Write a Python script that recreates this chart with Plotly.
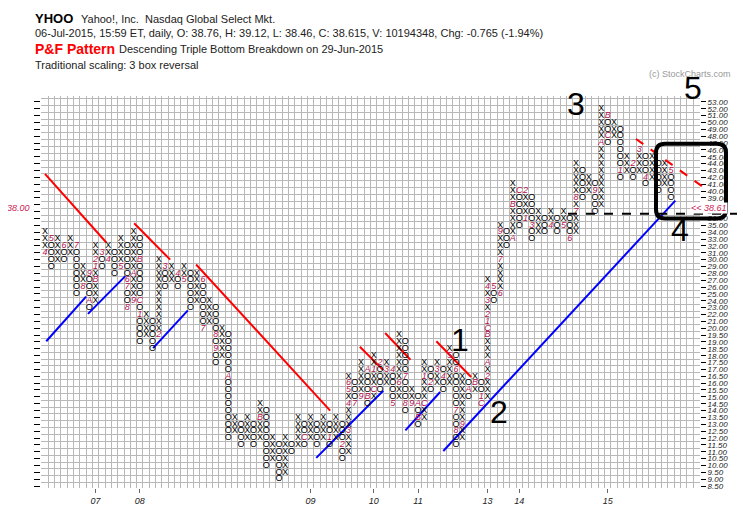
import plotly.graph_objects as go

# ---------------- data ----------------
col_type = list("XOXOXOXOXO" * 10)
col_low = [31,29,30,30,31,25,26,23,24,29, 30,28,29,23,24,19,19.5,18.5,19.5,26,
           27,26,27,23,24,20,21,17.5,18,12, 12.5,11.5,12,11.5,12,10,10.5,9,9.5,11,
           11.5,11.5,12,11.5,12,11.5,12,10.5,11,14.5, 15,14.5,15,15.5,16,14.5,15,14,14.5,13,
           13.5,15.5,16,15.5,16,11.5,12,15,15.5,14.5, 15,24,25,32,33,35,36,33,34,34,
           35,34,35,33,34,39,40,37,38,47, 48,42,43,42,43,41,42,40,41,39]
col_high = [34,33,33,32,33,32,29,28,32,31, 32,31,33,32,34,33,22,21,30,29,
            29,28,29,28,28,27,24,23,20,19.5, 13.5,13,13.5,13,14.5,14,12,11.5,12,11.5,
            13.5,13,13.5,13,13.5,13,13.5,13,16.5,16, 17.5,17,18,17.5,17.5,17,19.5,19,15.5,15,
            17.5,17,17.5,17,18.5,18,16.5,16,16.5,16, 27,26,35,34,41,40,40,39,37,36,
            37,36,37,36,44,43,42,41,52,51, 50,49,45,44,46,45,45,44,44,43]

mk_col = [0,1,3,5,6,7,7,8,8,8,9,10,12,13,13,13,14,14,15,15,15,18,19,21,22,25,25,27,27,29,
          34,41,45,47,48,48,48,48,49,50,51,51,52,52,53,54,55,55,56,57,57,58,59,59,60,60,61,62,63,64,
          65,65,65,66,67,68,69,69,70,70,70,70,70,70,70,70,71,72,72,72,74,74,75,76,76,77,80,82,83,84,84,
          87,88,89,89,91,93,94,95,99]
mk_price = [31,33,32,32,26,28,24,27,29,30,31,30,29,27,26,23,24,28,30,24,22,19.5,29,28,27,27,20,19.5,18.5,16.5,
            13.5,12,12,11.5,12.5,14.5,15.5,16,14.5,15,17,15,15.5,17,17.5,17,17,14.5,16,16.5,14.5,14.5,14.5,13.5,14.5,16.5,16,17,16.5,18,
            17,14,12.5,13,15.5,16,14.5,15,16.5,17.5,19.5,20,21,22,24,26,26,25,30,34,33,38,40,36,40,35,35,35,33,37,39,
            40,47,51,48,43,44,46,42,43]
mk_char = list("456789AB1234567" + "89ABC1234567" + "89A") + \
          list("BC1234567" + "9ABC1234" + "56789ABC" + "123" + "4") + \
          list("56789ABC" + "12") + list("ABC12345") + list("679ABC") + list("1234567") + list("89") + \
          list("ABC1") + list("2345") + list("6")

box_labels = [f"{8.5 + 0.5*i:.2f}" for i in range(23)] + [f"{20 + i:.2f}" for i in range(34)]
year_cols = [8, 15, 42, 52, 59, 70, 75, 89]
year_labels = ["07", "08", "09", "10", "11", "13", "14", "15"]

red_x = [[0, 9.7], [14.1, 19.8], [23.9, 45.1], [49.8, 53.5], [53.8, 57.8], [61.9, 67.4]]
red_y = [[45.5, 35.5], [38.3, 33], [32.3, 11.0], [20.3, 16.9], [22.3, 18.4], [21.1, 15.9]]
blue_x = [[0.2, 6.5], [6.8, 12.7], [17.1, 22.6], [42.9, 53.5], [57, 62.5], [63, 99.7]]
blue_y = [[21.1, 27.6], [25.1, 30.6], [20.1, 25.6], [4.1, 13.9], [8.1, 13.7], [5.1, 41.6]]
dash_red_px = [628, 697]
dash_red_y = [50.6, 43.4]


def idx(p):
    return (p - 8.5) / 0.5 if p < 20 else 23 + (p - 20)


marks = {(c, round(idx(p))): ch for c, p, ch in zip(mk_col, mk_price, mk_char)}
xs, ys, ts = [], [], []
mx, my, mt = [], [], []
for c, (t, lo, hi) in enumerate(zip(col_type, col_low, col_high)):
    for i in range(round(idx(lo)), round(idx(hi)) + 1):
        if (c, i) in marks:
            mx.append(c); my.append(i); mt.append(marks[(c, i)])
        else:
            xs.append(c); ys.append(i); ts.append(t)

W, H, L, R, T, B = 745, 510, 33, 53, 88, 22
PW, PH = W - L - R, H - T - B


def px(x):
    return (x - L) / PW


def py(y):
    return (H - B - y) / PH


fig = go.Figure()
for lx, ly in zip(red_x, red_y):
    fig.add_trace(go.Scatter(x=lx, y=ly, mode="lines", line=dict(color="#ff0000", width=2), hoverinfo="skip"))
for lx, ly in zip(blue_x, blue_y):
    fig.add_trace(go.Scatter(x=lx, y=ly, mode="lines", line=dict(color="#0000ff", width=2), hoverinfo="skip"))
fig.add_trace(go.Scatter(x=xs, y=ys, text=ts, mode="text",
                         textfont=dict(family="Liberation Sans", size=9, color="black")))
fig.add_trace(go.Scatter(x=mx, y=my, text=mt, mode="text",
                         textfont=dict(family="Liberation Sans", size=9, color="#b3124e", style="italic")))
fig.add_trace(go.Scatter(x=[0], y=[0], yaxis="y2", mode="markers", marker=dict(opacity=0), hoverinfo="skip"))

fig.add_shape(type="line", xref="paper", yref="y", x0=px(dash_red_px[0]), x1=px(dash_red_px[1]),
              y0=dash_red_y[0], y1=dash_red_y[1], line=dict(color="#ff0000", width=2, dash="dash"))
fig.add_shape(type="line", xref="paper", yref="y", x0=px(560), x1=px(745), y0=39.7, y1=39.7,
              line=dict(color="black", width=2, dash="dash"))
x0, x1, y0, y1, rx, ry = px(648), px(718), 39.0, 49.9, 9 / PW, 1.3
path = (f"M {x0+rx},{y0} L {x1-rx},{y0} Q {x1},{y0} {x1},{y0+ry} L {x1},{y1-ry} Q {x1},{y1} {x1-rx},{y1} "
        f"L {x0+rx},{y1} Q {x0},{y1} {x0},{y1-ry} L {x0},{y0+ry} Q {x0},{y0} {x0+rx},{y0} Z")
fig.add_shape(type="path", path=path, xref="paper", yref="y", line=dict(color="black", width=4))

SH = {"left": 8, "right": 8, "center": 3}  # annotation horizontal offset correction


def ann(x, y, text, size=11, color="#222", bold=False, xa="left", bg=None):
    fig.add_annotation(x=px(x - SH[xa]), y=py(y),
                       xref="paper", yref="paper", text=f"<b>{text}</b>" if bold else text,
                       showarrow=False, xanchor=xa, yanchor="middle", bgcolor=bg, borderpad=0,
                       font=dict(size=size, color=color, family="Liberation Sans"))


ann(34, 9, "YHOO", 13, "black", True)
ann(80, 9, "Yahoo!, Inc.  Nasdaq Global Select Mkt.", 11)
ann(34, 24, "06-Jul-2015, 15:59 ET, daily, O: 38.76, H: 39.12, L: 38.46, C: 38.615, V: 10194348, Chg: -0.765 (-1.94%)", 11)
ann(34, 40, "P&F Pattern", 14, "#ff0000", True)
ann(118, 40, "Descending Triple Bottom Breakdown on 29-Jun-2015", 11)
ann(34, 56, "Traditional scaling: 3 box reversal", 11)
ann(732, 66, "(c) StockCharts.com", 9, "#999", xa="right")
ann(31, 202, "<i>38.00</i>", 9, "#cc2255", xa="right")
ann(690, 202, "<i><< 38.61</i>", 9, "#cc2255", bg="white")
for t, x, y in [("1", 455, 337), ("2", 494, 410), ("3", 571, 96), ("4", 675, 225), ("5", 688, 80)]:
    ann(x, y, t, 32, "black", xa="center")

grid = "#b8b8b8"
fig.update_layout(
    width=W, height=H, margin=dict(l=L, r=R, t=T, b=B), showlegend=False,
    paper_bgcolor="white", plot_bgcolor="white",
    xaxis=dict(range=[-0.63, 103.6], tickvals=year_cols, ticktext=year_labels, ticks="outside", ticklen=4,
               tickcolor="#666", showgrid=False, zeroline=False,
               tickfont=dict(size=9, family="Liberation Sans", color="#222", style="italic"),
               minor=dict(tick0=0.5, dtick=1, showgrid=True, gridcolor=grid, gridwidth=1)),
    yaxis=dict(range=[-0.29, 56.86], tickvals=list(range(57)), ticks="outside", ticklen=6, tickcolor="black",
               showticklabels=False, showgrid=False, zeroline=False,
               minor=dict(tick0=0.5, dtick=1, showgrid=True, gridcolor=grid, gridwidth=1)),
    yaxis2=dict(overlaying="y", matches="y", side="right", tickvals=list(range(57)), ticktext=box_labels,
                ticks="outside", ticklen=5, tickcolor="black", showgrid=False, zeroline=False,
                tickfont=dict(size=8, family="Liberation Sans", color="#222", style="italic")),
)
fig.write_html("out.html")
